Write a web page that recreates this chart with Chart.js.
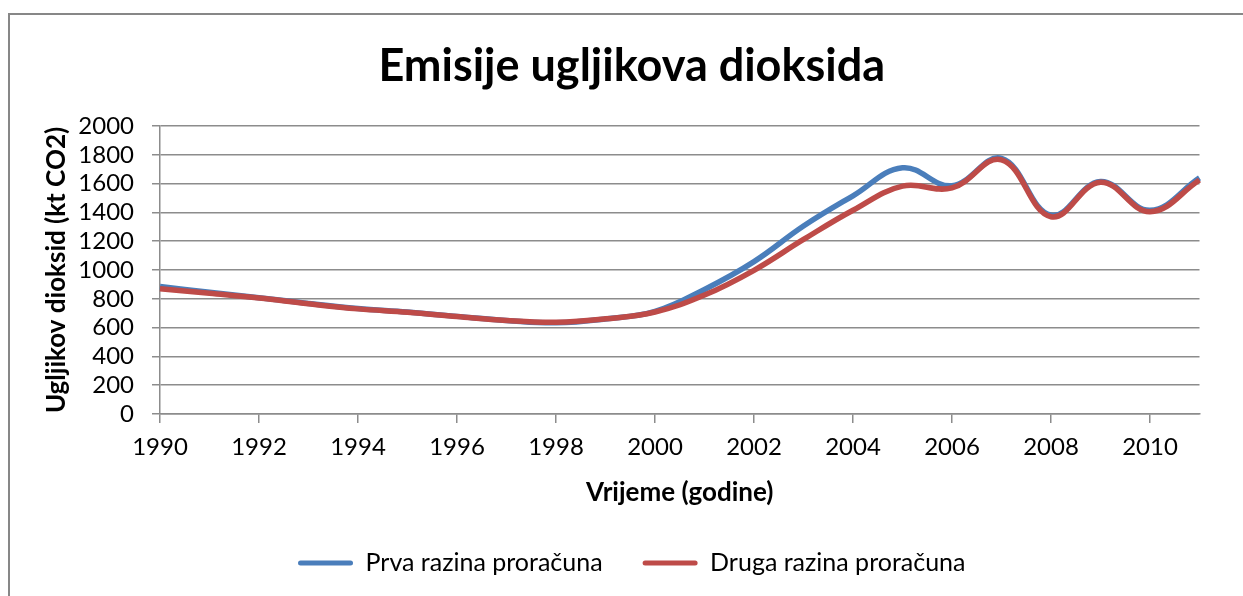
<!DOCTYPE html>
<html>
<head>
<meta charset="utf-8">
<title>Emisije ugljikova dioksida</title>
<script src="https://cdn.jsdelivr.net/npm/chart.js@4"></script>
<style>
    body { margin: 0; overflow: hidden; background: #ffffff; }
    #frame {
        position: absolute;
        left: 8px;
        top: 13px;
        width: 1300px;
        height: 700px;
        border: 2px solid #878787;
    }
    #co2Chart { position: absolute; left: 0; top: 0; }
</style>
</head>
<body>
<div id="frame"></div>
<canvas id="co2Chart" width="1243" height="596"></canvas>
<script>
// Chart data
const years = ["1990", "1991", "1992", "1993", "1994", "1995", "1996", "1997", "1998", "1999", "2000",
               "2001", "2002", "2003", "2004", "2005", "2006", "2007", "2008", "2009", "2010", "2011"];
const prvaRazina = [885, 845, 808, 768, 733, 708, 678, 650, 633, 660, 712,
                    865, 1058, 1305, 1515, 1710, 1585, 1775, 1380, 1615, 1415, 1640];
const drugaRazina = [870, 838, 805, 765, 730, 707, 677, 649, 637, 661, 708,
                     826, 998, 1212, 1415, 1582, 1570, 1765, 1370, 1610, 1405, 1625];
const yTicks = [0, 200, 400, 600, 800, 1000, 1200, 1400, 1600, 1800, 2000];

const gridColor = "#8c8c8c";

Chart.defaults.font.family = "Lato";
Chart.defaults.color = "#000000";

const config = {
    type: "line",
    data: {
        labels: years,
        datasets: [{
            label: "Prva razina proračuna",
            data: prvaRazina,
            borderColor: "#4a7ebb",
            backgroundColor: "#4a7ebb",
            borderWidth: 5.5,
            pointRadius: 0,
            tension: 0.4,
            order: 1
        }, {
            label: "Druga razina proračuna",
            data: drugaRazina,
            borderColor: "#be4b48",
            backgroundColor: "#be4b48",
            borderWidth: 5.5,
            pointRadius: 0,
            tension: 0.4,
            order: 0
        }]
    },
    options: {
        responsive: false,
        animation: false,
        layout: {
            padding: { left: 64, right: 43.5, top: 0, bottom: 10.5 }
        },
        plugins: {
            tooltip: { enabled: false },
            title: {
                display: true,
                text: "Emisije ugljikova dioksida",
                font: { size: 45, weight: "bold" },
                padding: { top: 39, bottom: 33 }
            },
            legend: {
                position: "bottom",
                labels: {
                    font: { size: 25 },
                    boxWidth: 55,
                    boxHeight: 5,
                    padding: 40,
                    useBorderRadius: true,
                    borderRadius: 2.5,
                    generateLabels: (chart) => chart.data.datasets.map((ds, i) => ({
                        text: ds.label,
                        fillStyle: ds.borderColor,
                        strokeStyle: ds.borderColor,
                        lineWidth: 0,
                        borderRadius: 2.5,
                        fontColor: "#000000",
                        hidden: false,
                        datasetIndex: i
                    }))
                }
            }
        },
        scales: {
            x: {
                offset: false,
                grid: {
                    drawOnChartArea: false,
                    drawTicks: true,
                    tickLength: 9,
                    color: gridColor,
                    lineWidth: 1.5
                },
                border: { color: gridColor, width: 1.5 },
                ticks: {
                    autoSkip: false,
                    maxRotation: 0,
                    padding: 9.6,
                    font: { size: 24 },
                    // only every second year gets a label and a tick mark
                    callback: function (value, index) {
                        return index % 2 === 0 ? this.getLabelForValue(value) : null;
                    }
                },
                title: {
                    display: true,
                    text: "Vrijeme (godine)",
                    font: { size: 26, weight: "bold" },
                    padding: { top: 6.4, bottom: 1.9 }
                }
            },
            y: {
                min: yTicks[0],
                max: yTicks[yTicks.length - 1],
                afterFit: (scale) => { scale.width = 96; },
                grid: {
                    color: gridColor,
                    lineWidth: 1.5,
                    drawTicks: true,
                    tickLength: 8
                },
                border: { color: gridColor, width: 1.5 },
                ticks: {
                    stepSize: yTicks[1] - yTicks[0],
                    autoSkip: false,
                    padding: 18,
                    font: { size: 24 },
                    callback: (value) => String(value)
                },
                title: {
                    display: true,
                    text: "Ugljikov dioksid (kt CO2)",
                    font: { size: 26, weight: "bold" },
                    padding: { top: -22.6, bottom: 0 }
                }
            }
        }
    }
};

// Render the chart
const ctx = document.getElementById("co2Chart").getContext("2d");
new Chart(ctx, config);
</script>
</body>
</html>
